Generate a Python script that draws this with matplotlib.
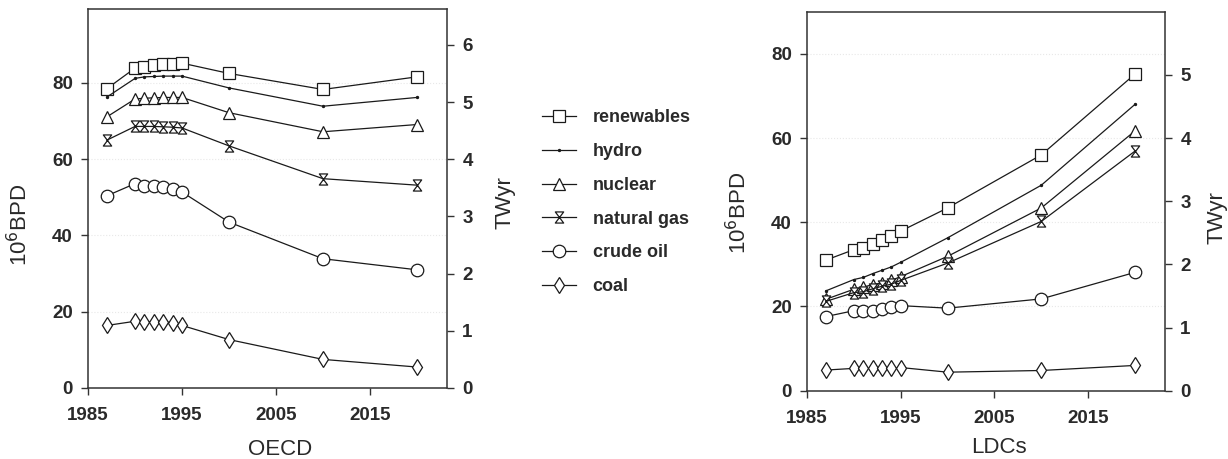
import numpy as np
import matplotlib
matplotlib.use('Agg')
import matplotlib.pyplot as plt
from matplotlib.path import Path

plt.rcParams['font.family'] = ['Liberation Sans', 'DejaVu Sans']

years = [1987, 1990, 1991, 1992, 1993, 1994, 1995, 2000, 2010, 2020]
labels = ['renewables', 'hydro', 'nuclear', 'natural gas', 'crude oil', 'coal']

# OECD, 10^6 BPD (cumulative stack)
oecd_renewables = [78.5, 83.9, 84.3, 84.6, 84.9, 85.1, 85.2, 82.5, 78.3, 81.6]
oecd_hydro = [76.3, 81.2, 81.6, 81.7, 81.8, 81.8, 81.8, 78.7, 73.9, 76.2]
oecd_nuclear = [71.1, 75.8, 76.0, 76.1, 76.2, 76.2, 76.2, 72.2, 67.2, 69.1]
oecd_gas = [65.0, 68.6, 68.6, 68.6, 68.5, 68.4, 68.2, 63.5, 54.9, 53.2]
oecd_oil = [50.4, 53.6, 53.0, 52.9, 52.8, 52.3, 51.4, 43.5, 33.9, 31.0]
oecd_coal = [16.4, 17.5, 17.4, 17.4, 17.4, 17.1, 16.4, 12.7, 7.5, 5.5]

# LDCs, 10^6 BPD (cumulative stack)
ldc_renewables = [31.0, 33.5, 33.9, 34.9, 35.9, 36.8, 37.9, 43.4, 56.0, 75.2]
ldc_hydro = [23.7, 26.4, 26.9, 27.8, 28.6, 29.4, 30.5, 36.3, 48.8, 68.0]
ldc_nuclear = [21.7, 24.1, 24.6, 25.2, 25.6, 26.2, 27.1, 31.9, 43.4, 61.7]
ldc_gas = [21.2, 23.3, 23.5, 24.2, 24.8, 25.3, 26.2, 30.3, 40.2, 56.9]
ldc_oil = [17.6, 19.0, 19.0, 19.0, 19.5, 19.8, 20.2, 19.6, 21.8, 28.1]
ldc_coal = [4.9, 5.3, 5.3, 5.3, 5.3, 5.3, 5.5, 4.4, 4.8, 6.0]

bpd_per_twyr = 15.0

hourglass = Path([(-0.75, 1), (0.75, 1), (-0.75, -1), (0.75, -1), (-0.75, 1)],
                 [Path.MOVETO, Path.LINETO, Path.LINETO, Path.LINETO, Path.CLOSEPOLY])
markers = ['s', '.', '^', hourglass, 'o', 'd']
msizes = [8, 3, 8.5, 8, 9, 8]


def draw_panel(ax, series, ymax, twticks, name, ylab_y, tw_y, xlab_y, tw_x):
    for vals, m, ms, lab in zip(series, markers, msizes, labels):
        ax.plot(years, vals, color='#1a1a1a', lw=0.9, marker=m, ms=ms,
                mfc='white' if m != '.' else '#1a1a1a', mec='#1a1a1a', mew=0.9, label=lab)
    ax.set_xlim(1985, 2023.2)
    ax.set_ylim(0, ymax)
    ax.set_xticks([1985, 1995, 2005, 2015])
    ax.set_yticks([0, 20, 40, 60, 80])
    for y in [20, 40, 60, 80]:
        ax.axhline(y, color='#e8e8e8', lw=0.8, ls=':', zorder=0)
    ax.spines['right'].set_visible(False)
    for s in ['left', 'bottom', 'top']:
        ax.spines[s].set_linewidth(1.1)
        ax.spines[s].set_color('#333333')
    ax.tick_params(direction='out', length=5, width=1, color='#333333')
    ax.tick_params(axis='y', pad=6)
    ax.tick_params(axis='x', pad=9)
    for t in ax.get_xticklabels() + ax.get_yticklabels():
        t.set_fontsize(13.5)
        t.set_fontweight('bold')
        t.set_color('#2a2a2a')
    ax.set_xlabel(name, fontsize=16, color='#2a2a2a')
    ax.xaxis.set_label_coords(0.535, xlab_y)
    ax.set_ylabel('10$^{6}$BPD', fontsize=16, color='#2a2a2a')
    ax.yaxis.set_label_coords(-0.156, ylab_y)

    tw = ax.twinx()
    tw.set_ylim(0, ymax / bpd_per_twyr)
    tw.set_yticks(twticks)
    for s in ['top', 'left', 'bottom']:
        tw.spines[s].set_visible(False)
    tw.spines['right'].set_linewidth(1.1)
    tw.spines['right'].set_color('#333333')
    tw.tick_params(direction='out', length=5, width=1, color='#333333', pad=6)
    for t in tw.get_yticklabels():
        t.set_fontsize(13.5)
        t.set_fontweight('bold')
        t.set_color('#2a2a2a')
    tw.set_ylabel('TWyr', fontsize=16, color='#2a2a2a')
    tw.yaxis.set_label_coords(tw_x, tw_y)


fig = plt.figure(figsize=(12.28, 4.59), dpi=100)
ax1 = fig.add_axes([0.0717, 0.1547, 0.2923, 0.8257])
ax2 = fig.add_axes([0.6572, 0.1488, 0.2915, 0.8257])

draw_panel(ax1, [oecd_renewables, oecd_hydro, oecd_nuclear, oecd_gas, oecd_oil, oecd_coal],
           99.4, [0, 1, 2, 3, 4, 5, 6], 'OECD', 0.43, 0.49, -0.135, 1.131)
draw_panel(ax2, [ldc_renewables, ldc_hydro, ldc_nuclear, ldc_gas, ldc_oil, ldc_coal],
           90, [0, 1, 2, 3, 4, 5], 'LDCs', 0.47, 0.456, -0.122, 1.115)

handles, labs = ax1.get_legend_handles_labels()
leg = fig.legend(handles, labs, loc='upper left', bbox_to_anchor=(0.4415, 0.762),
                 frameon=False, handlelength=1.9, handletextpad=0.9, labelspacing=0.93,
                 prop={'size': 13, 'weight': 'bold'}, borderpad=0, borderaxespad=0)
for t in leg.get_texts():
    t.set_color('#2a2a2a')

fig.savefig('out.png', dpi=100)
